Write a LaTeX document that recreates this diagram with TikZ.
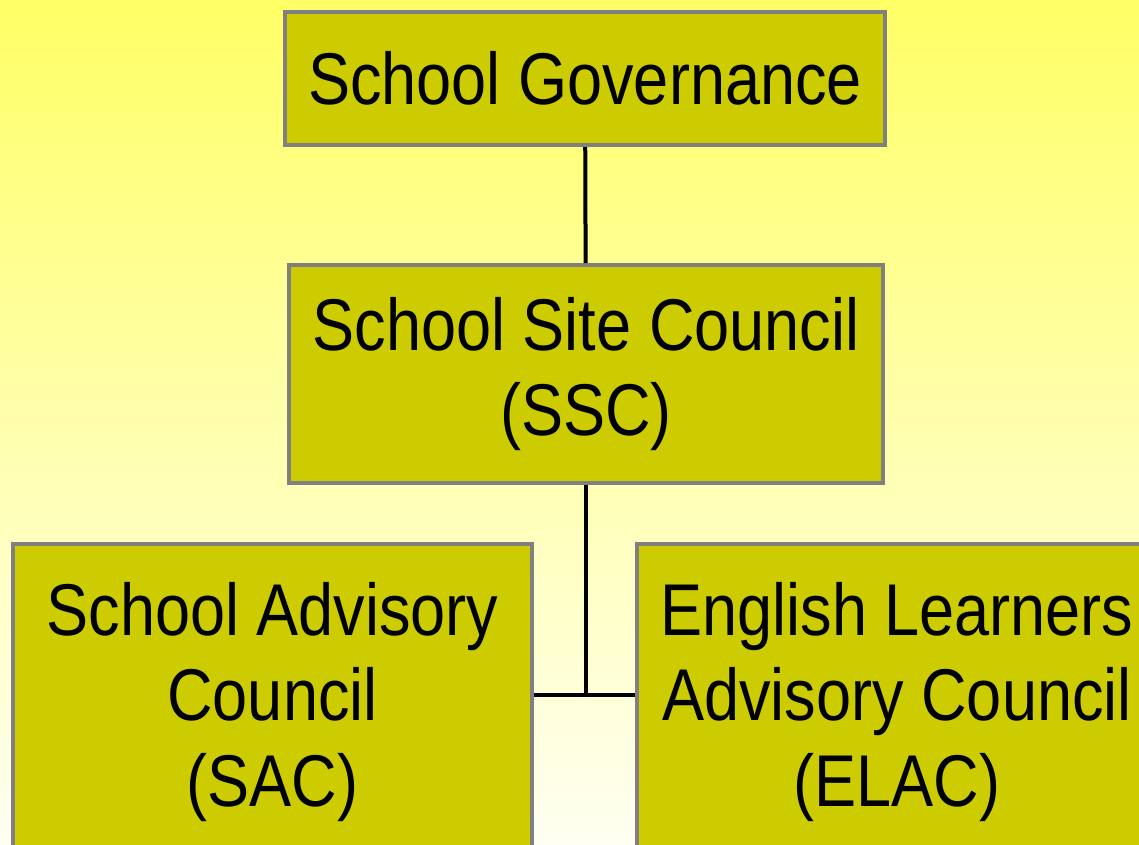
\documentclass[tikz,border=0pt]{standalone}
\usepackage{fontspec}
\setmainfont{Liberation Sans}[FakeStretch=0.86]
\definecolor{boxfill}{RGB}{204,204,0}
\definecolor{boxline}{RGB}{128,128,128}
\definecolor{bgtop}{RGB}{255,255,102}
\definecolor{bgbottom}{RGB}{255,255,242}
\begin{document}
\begin{tikzpicture}[x=0.75pt,y=-0.75pt,
  orgbox/.style={draw=boxline,line width=3pt,fill=boxfill,align=center,
    inner sep=0pt,font=\fontsize{55}{64}\selectfont},
  link/.style={line width=3pt,black}]
  \useasboundingbox (0,0) rectangle (1139,844);
  \clip (0,0) rectangle (1139,844);
  \shade[top color=bgtop,bottom color=bgbottom] (0,0) rectangle (1139,844);

  \node[orgbox,minimum width=450pt,minimum height=100pt] (gov) at (585,78.5) {School Governance};
  \node[orgbox,minimum width=445.5pt,minimum height=163.5pt] (ssc) at (586,374) {School Site Council\\(SSC)};
  \node[orgbox,minimum width=389pt,minimum height=236.5pt] (sac) at (272.5,702) {School Advisory\\Council\\(SAC)};
  \node[orgbox,minimum width=390pt,minimum height=236.5pt] (elac) at (897,702) {English Learners\\Advisory Council\\(ELAC)};

  \coordinate (joint) at (ssc.south |- 0,695);
  \draw[link] (gov) -- (ssc);
  \draw[link] (ssc.south) -- (joint);
  \draw[link] (sac.east |- joint) -- (elac.west |- joint);
\end{tikzpicture}
\end{document}
